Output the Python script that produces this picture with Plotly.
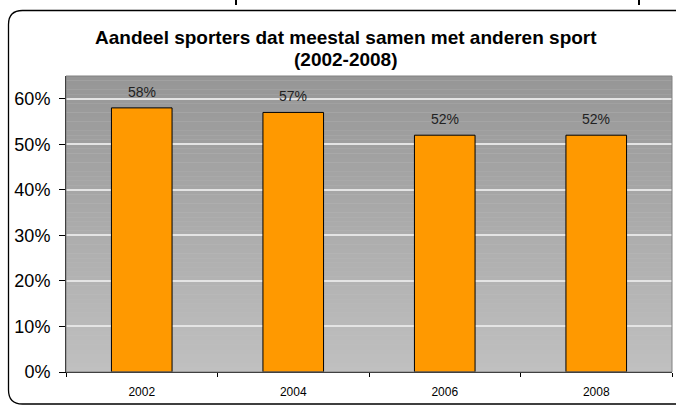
import plotly.graph_objects as go

years = ["2002", "2004", "2006", "2008"]
shares = [0.58, 0.57, 0.52, 0.52]
labels = ["58%", "57%", "52%", "52%"]
title_lines = ["Aandeel sporters dat meestal samen met anderen sport", "(2002-2008)"]

W, H = 676, 405
ML, MR, MT, MB = 66, 4, 76, 33
PW, PH = W - ML - MR, H - MT - MB
YMAX = 0.65


def px(x):
    return (x - ML) / PW


def py(y):
    return (H - MB - y) / PH


def mix(c1, c2, t):
    return "rgb(%d,%d,%d)" % tuple(round(a + (b - a) * t) for a, b in zip(c1, c2))


fig = go.Figure(go.Bar(
    x=years,
    y=shares,
    marker=dict(color="#FF9900", line=dict(color="#000000", width=1)),
    width=0.4,
    hoverinfo="x+y",
))

# grey vertical gradient behind the plot (Excel-style fill)
shapes = []
bands = 65
low, high = (192, 192, 192), (150, 150, 150)
for i in range(bands):
    shapes.append(dict(
        type="rect", xref="paper", yref="paper",
        x0=0, x1=1, y0=i / bands, y1=(i + 1) / bands,
        fillcolor=mix(low, high, (i + 0.5) / bands),
        line=dict(width=0), layer="below",
    ))

# plot area border
shapes.append(dict(type="rect", xref="paper", yref="paper", x0=0, x1=1, y0=0, y1=1,
                   line=dict(color="#808080", width=1), layer="above"))

# rounded chart frame
l, t, r, b, rad = px(8.5), py(10.5), px(690), py(404), 14
rx, ry = rad / PW, rad / PH
path = (f"M {l},{t - ry} L {l},{b + ry} Q {l},{b} {l + rx},{b} "
        f"L {r},{b} L {r},{t} L {l + rx},{t} Q {l},{t} {l},{t - ry} Z")
shapes.append(dict(type="path", xref="paper", yref="paper", path=path,
                   line=dict(color="#000000", width=1.3), fillcolor="rgba(0,0,0,0)"))

# fragments of text cut off above the frame
for xp in (236, 639):
    shapes.append(dict(type="line", xref="paper", yref="paper",
                       x0=px(xp), x1=px(xp), y0=py(0), y1=py(5),
                       line=dict(color="#000000", width=2)))

# value labels; category index used as x (years look numeric to plotly)
annotations = [
    dict(x=i, y=v, text=lab, showarrow=False, yshift=16,
         font=dict(size=14, color="#222222"))
    for i, (v, lab) in enumerate(zip(shares, labels))
]

# two-line bold title, centred on the frame
for line, ypix in zip(title_lines, (37.5, 59.5)):
    annotations.append(dict(
        xref="paper", yref="paper", x=px(346), y=py(ypix),
        xanchor="center", yanchor="middle", showarrow=False,
        text="<b>" + line + "</b>", font=dict(size=19, color="#000000"),
    ))

fig.update_layout(
    width=W, height=H,
    margin=dict(l=ML, r=MR, t=MT, b=MB, autoexpand=False),
    paper_bgcolor="white",
    plot_bgcolor="#C0C0C0",
    font=dict(family="Liberation Sans, Arial, sans-serif", color="#000000"),
    showlegend=False,
    shapes=shapes,
    annotations=annotations,
    xaxis=dict(
        type="category", automargin=False, range=[-0.5, len(years) - 0.5],
        showline=True, linecolor="#000000", linewidth=1,
        ticks="outside", ticklen=4, tickcolor="#000000", tickson="boundaries",
        tickfont=dict(size=12), showgrid=False, tickangle=0, ticklabelstandoff=9,
    ),
    yaxis=dict(
        automargin=False,
        range=[0, YMAX], dtick=0.1, tickformat=".0%",
        showline=True, linecolor="#000000", linewidth=1,
        ticks="outside", ticklen=6, tickcolor="#000000",
        tickfont=dict(size=18), ticklabelstandoff=5,
        showgrid=True, gridcolor="#E4E4E4", gridwidth=1.5, zeroline=False,
    ),
)

fig.write_html("out.html", config={"displayModeBar": False},
               post_script="document.body.style.margin = '0';")
